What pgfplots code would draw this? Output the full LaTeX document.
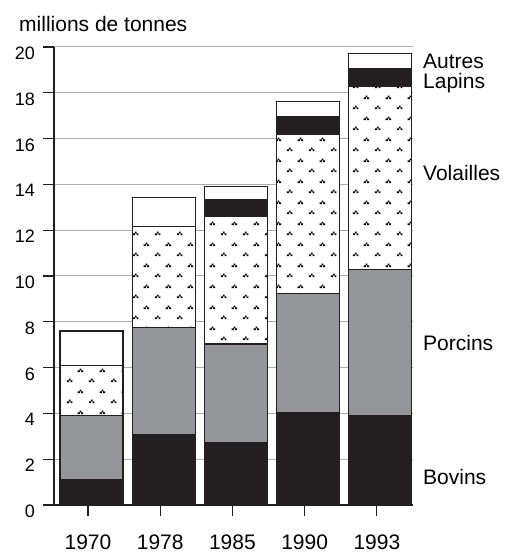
\documentclass[border=0pt]{standalone}
\usepackage{pgfplots}
\pgfplotsset{compat=1.18}
\usepackage{fontspec}
\setmainfont{Liberation Sans}
\usetikzlibrary{patterns}
\definecolor{noir}{RGB}{35,31,32}
\definecolor{gris}{RGB}{147,149,152}
\definecolor{grille}{RGB}{170,172,175}
\pgfdeclarepatternformonly{triDots}{\pgfqpoint{0pt}{0pt}}{\pgfqpoint{21.7pt}{21pt}}{\pgfqpoint{21.7pt}{21pt}}{
  \pgfpathrectangle{\pgfqpoint{2pt}{2pt}}{\pgfqpoint{2.3pt}{1.8pt}}
  \pgfpathrectangle{\pgfqpoint{3.9pt}{3.7pt}}{\pgfqpoint{1.8pt}{1.8pt}}
  \pgfpathrectangle{\pgfqpoint{5.6pt}{2pt}}{\pgfqpoint{1.8pt}{1.8pt}}
  \pgfpathrectangle{\pgfqpoint{12.85pt}{12.5pt}}{\pgfqpoint{2.3pt}{1.8pt}}
  \pgfpathrectangle{\pgfqpoint{14.75pt}{14.2pt}}{\pgfqpoint{1.8pt}{1.8pt}}
  \pgfpathrectangle{\pgfqpoint{16.45pt}{12.5pt}}{\pgfqpoint{1.8pt}{1.8pt}}
  \pgfusepath{fill}
}
\begin{document}
\begin{tikzpicture}
\begin{axis}[
  scale only axis,
  width=359pt, height=458pt,
  xmin=-0.47, xmax=4.5,
  ymin=0, ymax=20,
  ybar stacked,
  bar width=63pt,
  bar shift=3.5pt,
  axis lines=left,
  axis line style={-, line width=1.2pt, color=noir},
  tick style={line width=1.2pt, color=noir},
  tick align=outside,
  major tick length=11pt,
  xtick={0,1,2,3,4},
  xticklabels={1970,1978,1985,1990,1993},
  ytick={0,2,...,20},
  ymajorgrids,
  grid style={line width=1pt, color=grille},
  /pgf/number format/assume math mode=true,
  xticklabel style={anchor=base, inner sep=0pt, yshift=-33pt, font=\fontsize{21}{24}\selectfont},
  yticklabel style={anchor=north east, inner sep=0pt, xshift=-8pt, font=\fontsize{18}{21}\selectfont},
  clip=false,
]
\addplot[draw=noir, line width=1.2pt, fill=noir] coordinates {(0,1.12) (1,3.09) (2,2.74) (3,4.03) (4,3.9)};
\addplot[draw=noir, line width=1.2pt, fill=gris] coordinates {(0,2.78) (1,4.65) (2,4.29) (3,5.21) (4,6.39)};
\addplot[draw=noir, line width=1.2pt, preaction={fill=white}, pattern=triDots, pattern color=black] coordinates {(0,2.2) (1,4.41) (2,5.56) (3,6.95) (4,8.01)};
\addplot[draw=noir, line width=1.2pt, fill=noir] coordinates {(0,0) (1,0) (2,0.76) (3,0.77) (4,0.74)};
\addplot[draw=noir, line width=1.2pt, fill=white] coordinates {(0,1.5) (1,1.29) (2,0.55) (3,0.67) (4,0.68)};
\node[anchor=base west, inner sep=0pt, font=\fontsize{21}{24}\selectfont] at ([xshift=10pt]rel axis cs:1,0.9535) {Autres};
\node[anchor=base west, inner sep=0pt, font=\fontsize{21}{24}\selectfont] at ([xshift=10pt]rel axis cs:1,0.9095) {Lapins};
\node[anchor=base west, inner sep=0pt, font=\fontsize{21}{24}\selectfont] at ([xshift=10pt]rel axis cs:1,0.7095) {Volailles};
\node[anchor=base west, inner sep=0pt, font=\fontsize{21}{24}\selectfont] at ([xshift=10pt]rel axis cs:1,0.337) {Porcins};
\node[anchor=base west, inner sep=0pt, font=\fontsize{21}{24}\selectfont] at ([xshift=10pt]rel axis cs:1,0.045) {Bovins};
\node[anchor=base west, inner sep=0pt, font=\fontsize{21}{24}\selectfont] at ([xshift=-35pt, yshift=15.5pt]rel axis cs:0,1) {millions de tonnes};
\coordinate (O) at (rel axis cs:0,0);
\end{axis}
\pgfresetboundingbox
\path (O) ++(-54pt,-47pt) rectangle ++(516pt,552pt);
\end{tikzpicture}
\end{document}
